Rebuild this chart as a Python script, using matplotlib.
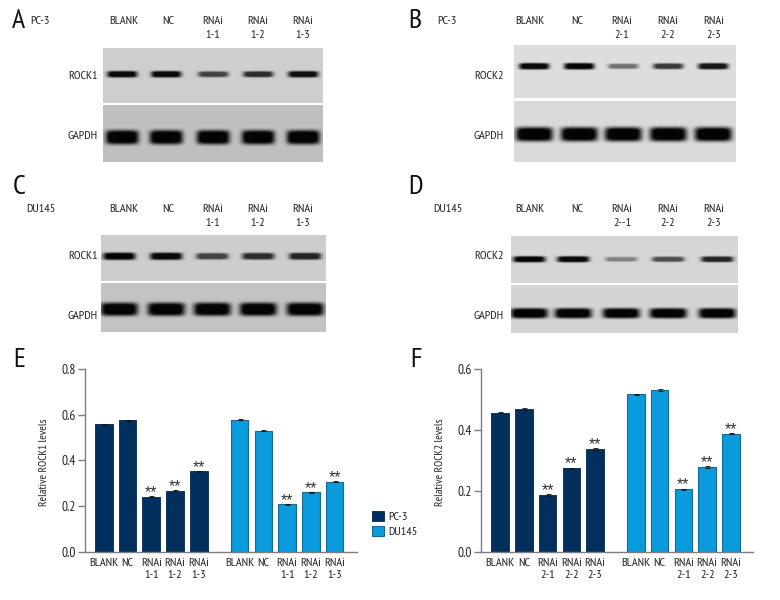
import numpy as np
import matplotlib
matplotlib.use('Agg')
import matplotlib.pyplot as plt

plt.rcParams['font.family'] = ['PT Sans Narrow', 'Liberation Sans', 'DejaVu Sans']

# Bar chart values
groups = ['BLANK', 'NC', 'RNAi\n1-1', 'RNAi\n1-2', 'RNAi\n1-3']
groups2 = ['BLANK', 'NC', 'RNAi\n2-1', 'RNAi\n2-2', 'RNAi\n2-3']
rock1_pc3 = [0.557, 0.575, 0.240, 0.267, 0.352]
rock1_du145 = [0.577, 0.530, 0.207, 0.260, 0.306]
rock2_pc3 = [0.457, 0.468, 0.186, 0.274, 0.337]
rock2_du145 = [0.517, 0.530, 0.205, 0.279, 0.388]
rock1_err_pc3 = [0.004, 0.002, 0.002, 0.003, 0.003]
rock1_err_du145 = [0.002, 0.001, 0.002, 0.003, 0.002]
rock2_err_pc3 = [0.003, 0.004, 0.002, 0.002, 0.004]
rock2_err_du145 = [0.002, 0.003, 0.001, 0.003, 0.002]
stars = ['', '', '**', '**', '**']

# Band strength on the blots, read by eye (1 = saturated)
a_rock = [0.98, 0.98, 0.70, 0.80, 0.95]
b_rock = [0.98, 1.00, 0.50, 0.75, 0.92]
c_rock = [1.00, 0.98, 0.70, 0.80, 0.85]
d_rock = [1.00, 0.98, 0.40, 0.65, 0.85]
gapdh = [1.0, 1.0, 1.0, 1.0, 1.0]

NAVY = '#02305e'
BLUE = '#0a9bdd'
TEXT = '#222222'
GREY = '#7d7d7d'
FS = 8.8

fig = plt.figure(figsize=(7.8, 6), dpi=100)
page = fig.add_axes([0, 0, 1, 1])
page.axis('off')


def blot_panel(x0, x1, y0, y1, bg, lanes, y, hw, hh, strength):
    xx, yy = np.meshgrid(np.arange(x0, x1, 0.5), np.arange(y0, y1, 0.5))
    img = np.full(xx.shape, float(bg))
    for cx, s in zip(lanes, strength):
        band = np.exp(-((xx - cx) / hw) ** 6 - ((yy - y) / (hh * (0.6 + 0.4 * s))) ** 4)
        img -= (bg - 5) * s * np.clip(band * 1.25, 0, 1)
    page.imshow(img, extent=(x0, x1, y1, y0), cmap='gray', vmin=0, vmax=255,
                aspect='auto', interpolation='bilinear', zorder=1)


lanes_a = [122, 166, 213, 258, 303]
lanes_b = [534, 579, 623, 668, 713]
lanes_c = [119, 166, 212, 258, 305]
lanes_d = [529, 573, 621, 668, 717]

blot_panel(103, 323, 48, 103, 206, lanes_a, 74, 15, 3.2, a_rock)
blot_panel(103, 323, 105, 162, 192, lanes_a, 137, 16.5, 7, gapdh)
blot_panel(514, 736, 45, 98, 222, lanes_b, 66, 15, 3.2, b_rock)
blot_panel(514, 736, 101, 162, 218, lanes_b, 134, 18.5, 7, gapdh)
blot_panel(101, 326, 235, 281, 205, lanes_c, 256, 16, 3.6, c_rock)
blot_panel(101, 326, 283, 332, 195, lanes_c, 309, 18.5, 6.5, gapdh)
blot_panel(511, 738, 236, 283, 214, lanes_d, 259, 16, 3, d_rock)
blot_panel(511, 738, 285, 333, 212, lanes_d, 313, 18.5, 5, gapdh)
page.set_xlim(0, 780)
page.set_ylim(600, 0)


def lane_labels(xs, names, y):
    for cx, name in zip(xs, names):
        lines = name.split('\n')
        page.text(cx, y, lines[0], ha='center', va='center', fontsize=FS, color=TEXT)
        if len(lines) > 1:
            page.text(cx, y + 13.5, lines[1], ha='center', va='center', fontsize=FS, color=TEXT)


label_x_left = [124, 168, 213, 258, 303]
label_x_right = [530, 577, 622, 668, 714]
lane_labels(label_x_left, groups, 21)
lane_labels(label_x_right, groups2, 21)
lane_labels(label_x_left, groups, 209)
lane_labels(label_x_right, ['BLANK', 'NC', 'RNAi\n2--1', 'RNAi\n2-2', 'RNAi\n2-3'], 209)

for x, y, s in [(30, 21, 'PC-3'), (437, 21, 'PC-3'), (26, 209, 'DU145'), (433, 209, 'DU145')]:
    page.text(x, y, s, ha='left', va='center', fontsize=FS, color=TEXT)
for x, y, s in [(98, 76, 'ROCK1'), (98, 136, 'GAPDH'), (504, 76, 'ROCK2'), (504, 136, 'GAPDH'),
                (98, 256, 'ROCK1'), (98, 316, 'GAPDH'), (504, 256, 'ROCK2'), (504, 316, 'GAPDH')]:
    page.text(x, y, s, ha='right', va='center', fontsize=FS, color=TEXT)
for x, y, s in [(12, 21, 'A'), (408, 21, 'B'), (13, 187, 'C'), (408, 187, 'D'), (13, 360, 'E'), (410, 360, 'F')]:
    page.text(x, y, s, ha='left', va='center', fontsize=20, color='#111111')


def bar_panel(left, right, ymax, yticks, left_vals, right_vals, left_err, right_err, names, ylabel):
    ax = fig.add_axes([left / 780, 1 - 551.7 / 600, (right - left) / 780, (551.7 - 369) / 600])
    xa = np.arange(5)
    xb = xa + 5.72
    b1 = ax.bar(xa, left_vals, 0.74, color=NAVY, edgecolor='#01254a', linewidth=0.6,
                yerr=left_err, ecolor='#111111', error_kw=dict(lw=0.6, capsize=1.8, capthick=0.6), label='PC-3')
    b2 = ax.bar(xb, right_vals, 0.74, color=BLUE, edgecolor='#17698f', linewidth=0.8,
                yerr=right_err, ecolor='#111111', error_kw=dict(lw=0.6, capsize=1.8, capthick=0.6), label='DU145')
    for xs, vals in [(xa, left_vals), (xb, right_vals)]:
        for x, v, s in zip(xs, vals, stars):
            if s:
                ax.annotate(s, (x, v), xytext=(0, 3), textcoords='offset points', ha='center', va='center',
                            fontsize=11.5, color='#333333', family='Liberation Sans')
    ax.set_xlim(-0.79, (right - left) / 23.75 - 0.79)
    ax.set_ylim(0, ymax)
    ax.set_yticks(yticks)
    ax.set_yticklabels([f'{t:.1f}' for t in yticks], fontsize=9.5, color=TEXT)
    ax.set_xticks(np.concatenate([xa, xb]))
    ax.set_xticklabels(names + names, fontsize=FS, color=TEXT, linespacing=1.3)
    ax.tick_params(axis='x', length=0, pad=4.5)
    ax.tick_params(axis='y', length=5, width=1, color=GREY, pad=1.5)
    ax.spines['top'].set_visible(False)
    ax.spines['right'].set_visible(False)
    ax.spines['left'].set_color(GREY)
    ax.spines['bottom'].set_color(GREY)
    ax.spines['left'].set_linewidth(1)
    ax.spines['bottom'].set_linewidth(1)
    ax.set_ylabel(ylabel, fontsize=8.2, color=TEXT)
    ax.yaxis.set_label_coords(-36 / (right - left), 0.49)
    ax.patch.set_alpha(0)
    return ax, (b1, b2)


ax_e, handles = bar_panel(85, 357, 0.8, [0.0, 0.2, 0.4, 0.6, 0.8], rock1_pc3, rock1_du145,
                          rock1_err_pc3, rock1_err_du145, groups, 'Relative ROCK1 levels')
bar_panel(481.3, 753, 0.6, [0.0, 0.2, 0.4, 0.6], rock2_pc3, rock2_du145,
          rock2_err_pc3, rock2_err_du145, groups2, 'Relative ROCK2 levels')

fig.legend(handles, ['PC-3', 'DU145'], loc='center left', bbox_to_anchor=(372 / 780, 1 - 524 / 600),
           frameon=False, fontsize=FS, handlelength=0.95, handleheight=0.85, handletextpad=0.4,
           labelspacing=0.3, borderpad=0, borderaxespad=0, labelcolor=TEXT)

fig.savefig('out.png', dpi=100)
